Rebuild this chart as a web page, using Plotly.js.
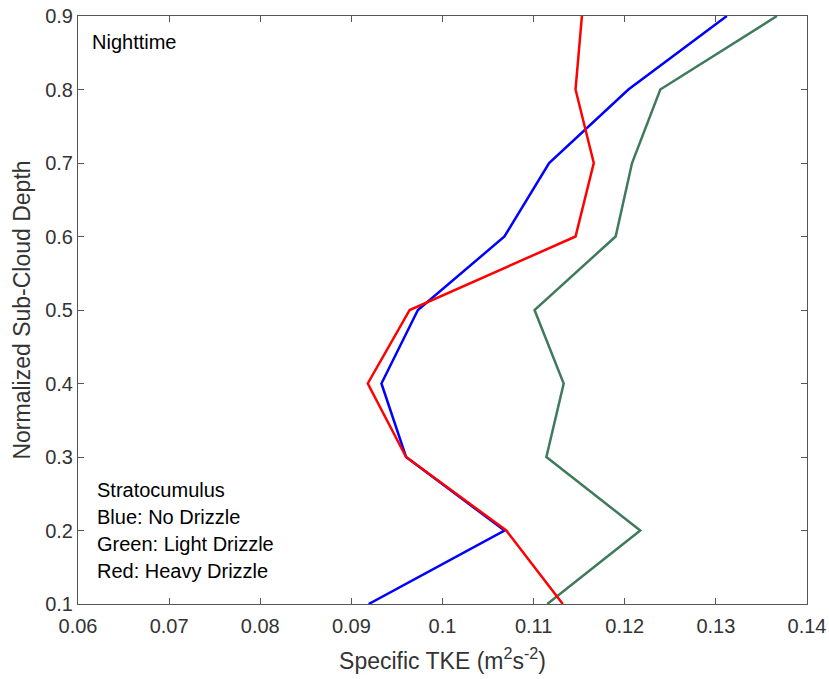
<!DOCTYPE html>
<html>
<head>
<meta charset="utf-8">
<script src="https://cdn.plot.ly/plotly-3.0.1.min.js"></script>
<style>html,body{margin:0;padding:0;background:#fff;}#chart{width:829px;height:679px;}</style>
</head>
<body>
<div id="chart"></div>
<script>
var depth = [0.1, 0.2, 0.3, 0.4, 0.5, 0.6, 0.7, 0.8, 0.9];
var blueNoDrizzle = [0.0919, 0.1068, 0.0960, 0.0933, 0.0973, 0.1068, 0.1117, 0.1204, 0.1312];
var greenLightDrizzle = [0.1115, 0.1217, 0.1114, 0.1133, 0.1101, 0.1190, 0.1208, 0.1239, 0.1367];
var redHeavyDrizzle = [0.1132, 0.1070, 0.0960, 0.0918, 0.0964, 0.1146, 0.1166, 0.1146, 0.1153];
var xTicks = [0.06, 0.07, 0.08, 0.09, 0.1, 0.11, 0.12, 0.13, 0.14];
var xTickText = ['0.06', '0.07', '0.08', '0.09', '0.1', '0.11', '0.12', '0.13', '0.14'];
var yTicks = [0.1, 0.2, 0.3, 0.4, 0.5, 0.6, 0.7, 0.8, 0.9];
var yTickText = ['0.1', '0.2', '0.3', '0.4', '0.5', '0.6', '0.7', '0.8', '0.9'];
var noteLines = ['Stratocumulus', 'Blue: No Drizzle', 'Green: Light Drizzle', 'Red: Heavy Drizzle'];

var fontFam = 'Liberation Sans, Arial, sans-serif';
var ink = '#333333';

var traces = [
  {x: blueNoDrizzle, y: depth, mode: 'lines', line: {color: 'rgb(0,0,255)', width: 2.5}, name: 'No Drizzle'},
  {x: greenLightDrizzle, y: depth, mode: 'lines', line: {color: 'rgb(64,122,92)', width: 2.5}, name: 'Light Drizzle'},
  {x: redHeavyDrizzle, y: depth, mode: 'lines', line: {color: 'rgb(255,0,0)', width: 2.5}, name: 'Heavy Drizzle'}
];

var plotTop = 16, plotH = 588;
var noteY = [490, 517, 544, 571];
var annotations = [{
  text: 'Nighttime', xref: 'paper', yref: 'paper', x: 0.016, y: 1 - (42 - plotTop) / plotH,
  xanchor: 'left', yanchor: 'middle', showarrow: false, font: {family: fontFam, size: 20, color: '#000'}
}];
noteLines.forEach(function (t, i) {
  annotations.push({
    text: t, xref: 'paper', yref: 'paper', x: 0.024, y: 1 - (noteY[i] - plotTop) / plotH,
    xanchor: 'left', yanchor: 'middle', showarrow: false, font: {family: fontFam, size: 20, color: '#000'}
  });
});

var axisCommon = {
  showgrid: false, zeroline: false, showline: true, linecolor: '#555555', linewidth: 1,
  mirror: 'ticks', ticks: 'inside', ticklen: 6, tickwidth: 1, tickcolor: '#555555',
  tickfont: {family: fontFam, size: 20, color: ink}
};

var layout = {
  width: 829, height: 679,
  margin: {l: 78, r: 22, t: 16, b: 75},
  paper_bgcolor: '#fff', plot_bgcolor: '#fff',
  showlegend: false,
  xaxis: Object.assign({}, axisCommon, {
    range: [0.06, 0.14], tickvals: xTicks, ticktext: xTickText, ticklabelstandoff: 4,
    title: {text: 'Specific TKE (m<sup>2</sup>s<sup>-2</sup>)', font: {family: fontFam, size: 23, color: ink}, standoff: 16}
  }),
  yaxis: Object.assign({}, axisCommon, {
    range: [0.1, 0.9], tickvals: yTicks, ticktext: yTickText,
    title: {text: 'Normalized Sub-Cloud Depth', font: {family: fontFam, size: 23, color: ink}, standoff: 8}
  }),
  annotations: annotations
};

Plotly.newPlot('chart', traces, layout, {displayModeBar: false, staticPlot: true});
</script>
</body>
</html>
